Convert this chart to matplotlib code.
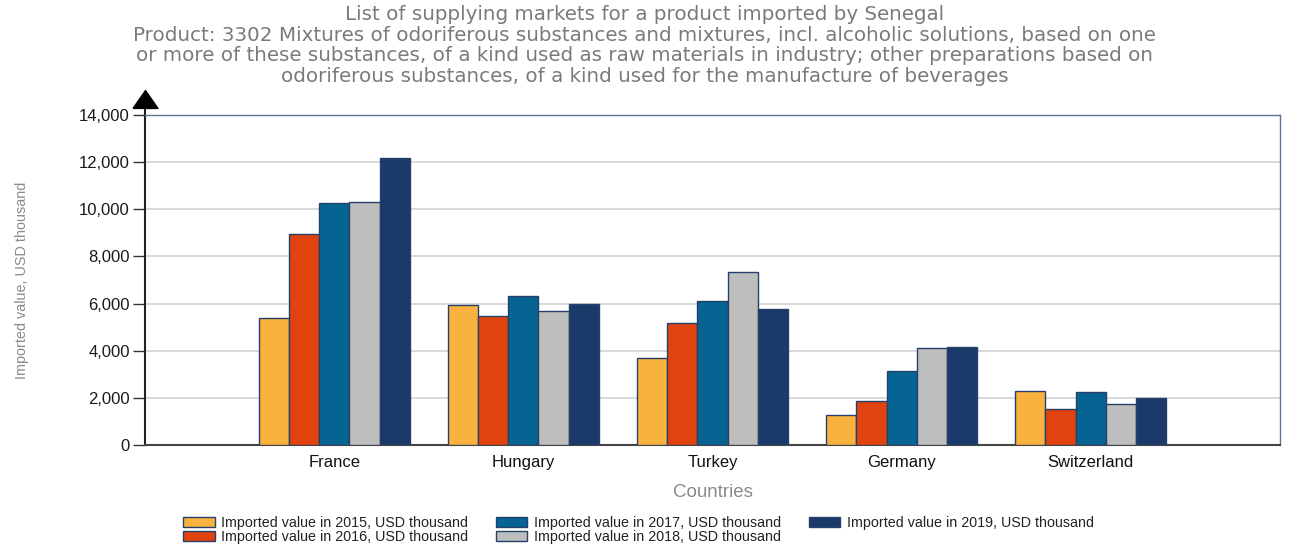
import matplotlib
matplotlib.use("Agg")
import matplotlib.pyplot as plt
import numpy as np

countries = ["France", "Hungary", "Turkey", "Germany", "Switzerland"]
series_labels = [
    "Imported value in 2015, USD thousand",
    "Imported value in 2016, USD thousand",
    "Imported value in 2017, USD thousand",
    "Imported value in 2018, USD thousand",
    "Imported value in 2019, USD thousand",
]
v2015 = [5370, 5940, 3680, 1260, 2280]
v2016 = [8950, 5490, 5160, 1870, 1540]
v2017 = [10250, 6310, 6110, 3140, 2235]
v2018 = [10300, 5700, 7340, 4100, 1750]
v2019 = [12160, 5995, 5785, 4170, 1995]
yticks = [0, 2000, 4000, 6000, 8000, 10000, 12000, 14000]

colors = ["#FAB23F", "#E0430D", "#066492", "#BEBEBE", "#1B3A69"]
series = [v2015, v2016, v2017, v2018, v2019]

fig = plt.figure(figsize=(12.89, 5.47), dpi=100)
ax = fig.add_axes([0.1125, 0.1865, 0.8805, 0.6035])

x = np.arange(len(countries))
w = 0.16
for i, (vals, c, lab) in enumerate(zip(series, colors, series_labels)):
    ax.bar(x + (i - 2) * w, vals, width=w, color=c, edgecolor="#24406B",
           linewidth=1.0, label=lab, zorder=3)

ax.set_xlim(-1, 5)
ax.set_ylim(0, 14000)
ax.set_yticks(yticks)
ax.set_yticklabels([f"{t:,}" for t in yticks], fontsize=12, color="#1a1a1a",
                   family="Liberation Sans")
ax.set_xticks(x)
ax.set_xticklabels(countries, fontsize=12, color="#111111", family="Liberation Sans")
ax.tick_params(axis="y", length=9, width=1, color="#333333", pad=2)
ax.tick_params(axis="x", length=0, pad=7)
ax.yaxis.grid(True, color="#D2D2D2", linewidth=1.2, zorder=0)
ax.set_axisbelow(True)

for s in ["top", "right"]:
    ax.spines[s].set_color("#5E7397")
    ax.spines[s].set_linewidth(1.0)
ax.spines["bottom"].set_color("#444444")
ax.spines["bottom"].set_linewidth(1.5)
ax.spines["left"].set_color("#222222")
ax.spines["left"].set_linewidth(1.5)

# arrow at top of y axis
tri = [(-0.7, -0.5), (0.7, -0.5), (0.0, 0.5), (-0.7, -0.5)]
ax.plot([-1, -1], [14000, 14400], color="#222222", lw=1.5, clip_on=False)
ax.plot([-1], [14683], marker=tri, markersize=18, color="black", clip_on=False)

ax.set_ylabel("Imported value, USD thousand", fontsize=10.4, color="#8a8a8a",
              family="Liberation Sans", labelpad=36)
ax.set_xlabel("Countries", fontsize=13.5, color="#8a8a8a", family="Liberation Sans",
              labelpad=10)

title = ("List of supplying markets for a product imported by Senegal\n"
         "Product: 3302 Mixtures of odoriferous substances and mixtures, incl. alcoholic solutions, based on one\n"
         "or more of these substances, of a kind used as raw materials in industry; other preparations based on\n"
         "odoriferous substances, of a kind used for the manufacture of beverages")
fig.text(0.5, 0.99, title, ha="center", va="top", fontsize=14.3, color="#7a7a7a",
         family="DejaVu Sans", linespacing=1.1)

leg = fig.legend(loc="upper left", bbox_to_anchor=(0.142, 0.0567), ncol=3, frameon=False,
                 prop={"family": "Liberation Sans", "size": 10.3},
                 handlelength=2.2, handleheight=0.7, columnspacing=1.95,
                 labelspacing=0.0, handletextpad=0.45, borderpad=0,
                 borderaxespad=0)
for t in leg.get_texts():
    t.set_color("#222222")

fig.savefig("out.png", dpi=100)
